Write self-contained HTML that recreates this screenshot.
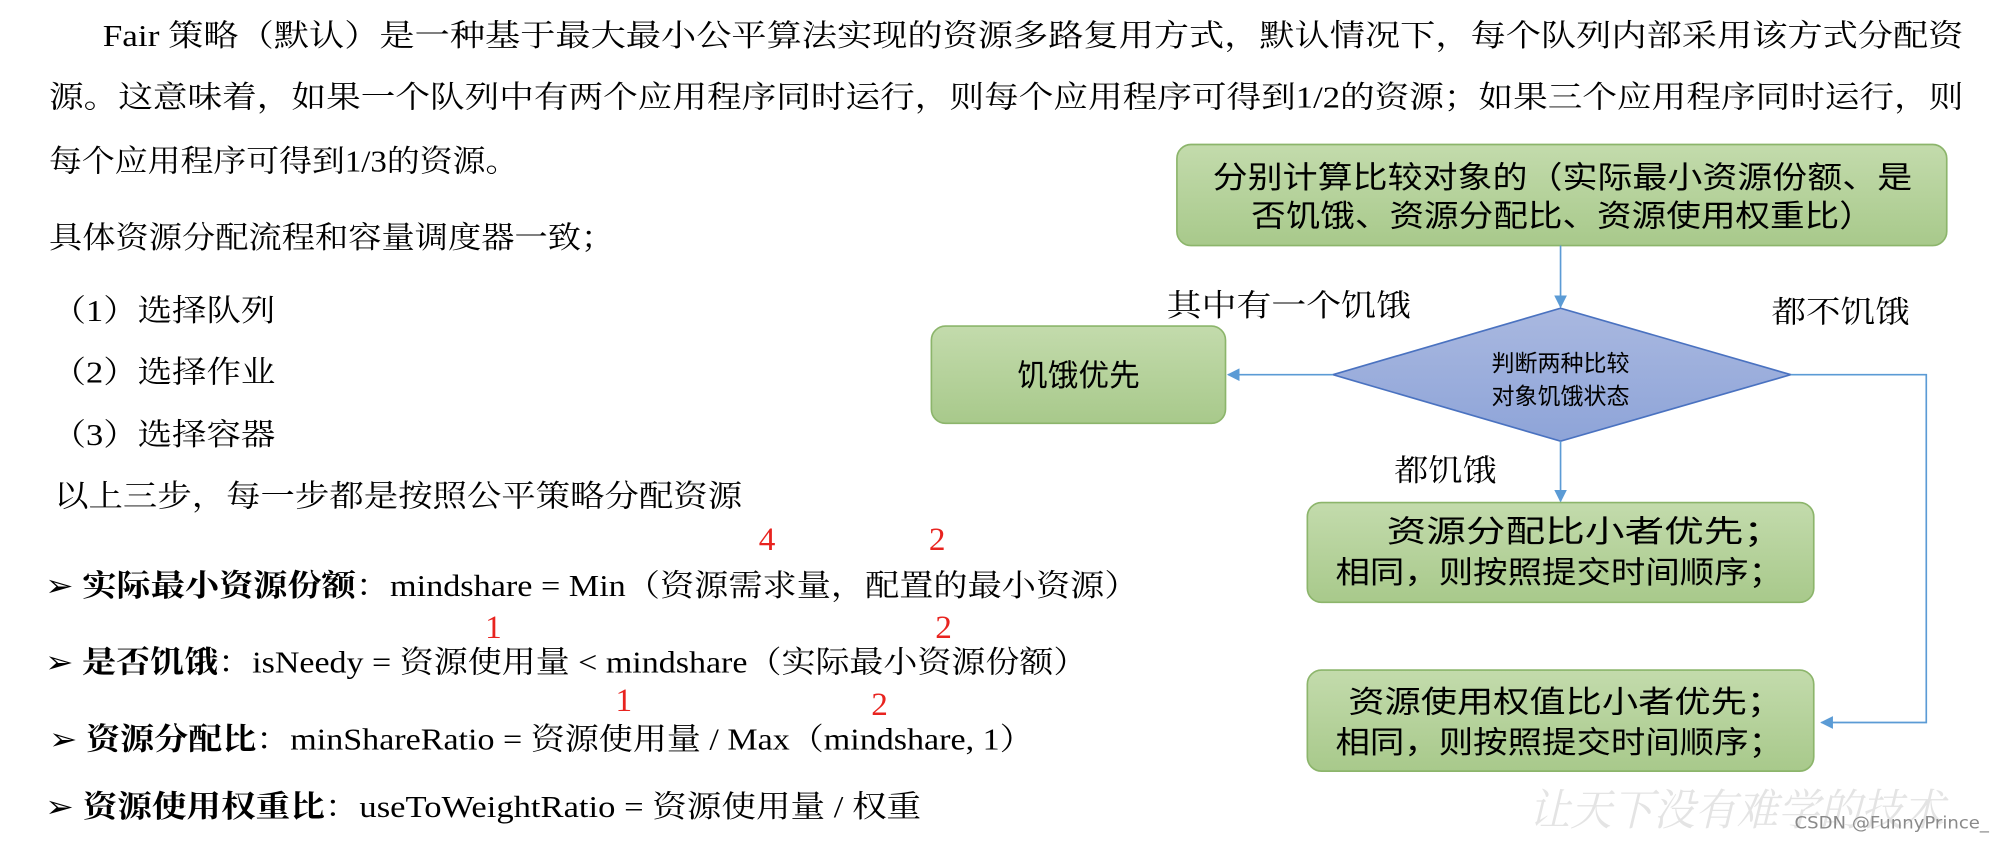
<!DOCTYPE html>
<html><head><meta charset="utf-8"><style>
html,body{margin:0;padding:0;background:#fff;}
svg{display:block;}
.s{font-family:"Liberation Serif","Noto Serif CJK SC",serif;font-size:24px;fill:#000;}
.b{font-weight:bold;}
.r{font-family:"Liberation Serif",serif;font-size:26px;fill:#e8231f;}
.f{font-family:"Liberation Sans","Noto Sans CJK SC",sans-serif;fill:#000;}
</style></head><body>
<svg width="2006" height="844" viewBox="0 0 1568 660" xmlns="http://www.w3.org/2000/svg">
<defs>
<linearGradient id="g" x1="0" y1="0" x2="0" y2="1"><stop offset="0" stop-color="#c3dbac"/><stop offset="1" stop-color="#a8c98b"/></linearGradient>
<linearGradient id="d" x1="0" y1="0" x2="0" y2="1"><stop offset="0" stop-color="#a9b8e0"/><stop offset="1" stop-color="#8ea4d8"/></linearGradient>
<marker id="a" markerWidth="10" markerHeight="10" refX="9" refY="5" orient="auto" markerUnits="userSpaceOnUse"><path d="M0,0 L10,5 L0,10 Z" fill="#5b9bd5"/></marker>
</defs>
<text class="s" x="80" y="36" textLength="1455" lengthAdjust="spacingAndGlyphs">Fair  策略（默认）是一种基于最大最小公平算法实现的资源多路复用方式，默认情况下，每个队列内部采用该方式分配资</text>
<text class="s" x="38" y="84" textLength="1497" lengthAdjust="spacingAndGlyphs">源。这意味着，如果一个队列中有两个应用程序同时运行，则每个应用程序可得到1/2的资源；如果三个应用程序同时运行，则</text>
<text class="s" x="38" y="134" textLength="367" lengthAdjust="spacingAndGlyphs">每个应用程序可得到1/3的资源。</text>
<text class="s" x="38" y="194" textLength="442" lengthAdjust="spacingAndGlyphs">具体资源分配流程和容量调度器一致；</text>
<text class="s" x="40" y="251" textLength="175" lengthAdjust="spacingAndGlyphs">（1）选择队列</text>
<text class="s" x="40" y="299" textLength="175" lengthAdjust="spacingAndGlyphs">（2）选择作业</text>
<text class="s" x="40" y="348" textLength="175" lengthAdjust="spacingAndGlyphs">（3）选择容器</text>
<text class="s" x="42" y="396" textLength="538" lengthAdjust="spacingAndGlyphs">以上三步，每一步都是按照公平策略分配资源</text>
<text class="r" x="593" y="430">4</text><text class="r" x="726" y="430">2</text>
<text class="s" x="35" y="466" textLength="855" lengthAdjust="spacingAndGlyphs">➢ <tspan class="b">实际最小资源份额</tspan>：mindshare = Min（资源需求量，配置的最小资源）</text>
<text class="r" x="379" y="499">1</text><text class="r" x="731" y="499">2</text>
<text class="s" x="35" y="526" textLength="815" lengthAdjust="spacingAndGlyphs">➢ <tspan class="b">是否饥饿</tspan>：isNeedy = 资源使用量 &lt; mindshare（实际最小资源份额）</text>
<text class="r" x="481" y="556">1</text><text class="r" x="681" y="559">2</text>
<text class="s" x="38" y="586" textLength="770" lengthAdjust="spacingAndGlyphs">➢ <tspan class="b">资源分配比</tspan>：minShareRatio = 资源使用量 / Max（mindshare, 1）</text>
<text class="s" x="35" y="639" textLength="685" lengthAdjust="spacingAndGlyphs">➢ <tspan class="b">资源使用权重比</tspan>：useToWeightRatio = 资源使用量 / 权重</text>

<rect x="920" y="113" width="602" height="79" rx="11" fill="url(#g)" stroke="#8cb56b" stroke-width="1.3"/>
<text class="f" x="948" y="147" font-size="24" textLength="547" lengthAdjust="spacingAndGlyphs">分别计算比较对象的（实际最小资源份额、是</text>
<text class="f" x="978" y="177" font-size="24" textLength="487" lengthAdjust="spacingAndGlyphs">否饥饿、资源分配比、资源使用权重比）</text>
<line x1="1220" y1="192" x2="1220" y2="240" stroke="#5b9bd5" stroke-width="1.3" marker-end="url(#a)"/>
<polygon points="1042,293 1220,241 1400,293 1220,345" fill="url(#d)" stroke="#4a72c0" stroke-width="1.3"/>
<text class="f" x="1220" y="290" font-size="18" text-anchor="middle">判断两种比较</text>
<text class="f" x="1220" y="316" font-size="18" text-anchor="middle">对象饥饿状态</text>
<line x1="1042" y1="293" x2="960" y2="293" stroke="#5b9bd5" stroke-width="1.3" marker-end="url(#a)"/>
<rect x="728" y="255" width="230" height="76" rx="11" fill="url(#g)" stroke="#8cb56b" stroke-width="1.3"/>
<text class="f" x="843" y="302" font-size="24" text-anchor="middle">饥饿优先</text>
<text class="s" x="912" y="247" textLength="191" lengthAdjust="spacingAndGlyphs">其中有一个饥饿</text>
<text class="s" x="1385" y="252" textLength="108" lengthAdjust="spacingAndGlyphs">都不饥饿</text>
<polyline points="1400,293 1506,293 1506,565 1424,565" fill="none" stroke="#5b9bd5" stroke-width="1.3" marker-end="url(#a)"/>
<line x1="1220" y1="345" x2="1220" y2="392" stroke="#5b9bd5" stroke-width="1.3" marker-end="url(#a)"/>
<text class="s" x="1090" y="376" textLength="80" lengthAdjust="spacingAndGlyphs">都饥饿</text>
<rect x="1022" y="393" width="396" height="78" rx="11" fill="url(#g)" stroke="#8cb56b" stroke-width="1.3"/>
<text class="f" x="1084" y="424" font-size="24" textLength="310" lengthAdjust="spacingAndGlyphs">资源分配比小者优先；</text>
<text class="f" x="1044" y="456" font-size="24" textLength="350" lengthAdjust="spacingAndGlyphs">相同，则按照提交时间顺序；</text>
<rect x="1022" y="524" width="396" height="79" rx="11" fill="url(#g)" stroke="#8cb56b" stroke-width="1.3"/>
<text class="f" x="1054" y="557" font-size="24" textLength="340" lengthAdjust="spacingAndGlyphs">资源使用权值比小者优先；</text>
<text class="f" x="1044" y="589" font-size="24" textLength="350" lengthAdjust="spacingAndGlyphs">相同，则按照提交时间顺序；</text>

<text x="1195" y="645" font-family="'Noto Serif CJK SC',serif" font-size="34" fill="#e4e4e4" font-style="italic" textLength="325" lengthAdjust="spacingAndGlyphs">让天下没有难学的技术</text>
<text x="1403" y="648" font-family="'DejaVu Sans',sans-serif" font-size="13" fill="#8a8a8a" textLength="152" lengthAdjust="spacingAndGlyphs">CSDN @FunnyPrince_</text>
</svg>
</body></html>
